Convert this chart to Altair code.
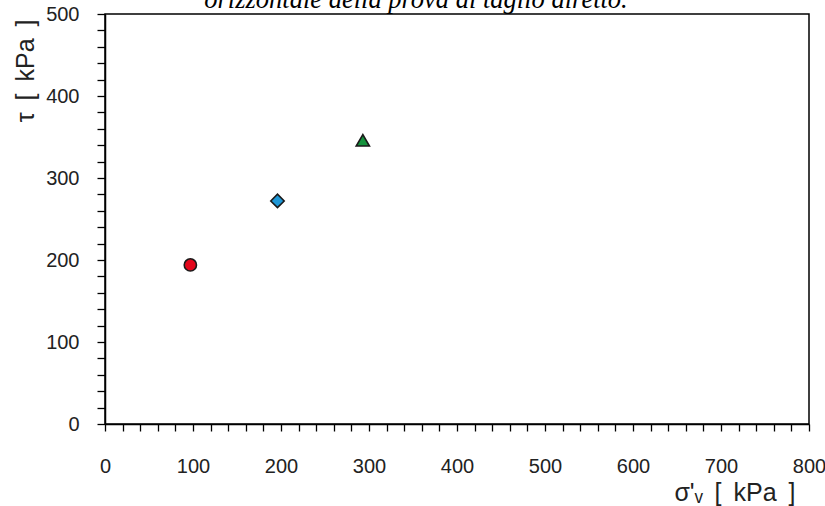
import altair as alt
import pandas as pd

# data
sigma_v = [97, 196, 293]
tau = [194, 272, 346]
series = ["A", "B", "C"]
shapes = ["circle", "diamond", "triangle-up"]
colors = ["#e3061b", "#1f97d6", "#15923c"]
sizes = [150, 180, 175]

x_ticks = list(range(0, 801, 20))
y_ticks = list(range(0, 501, 20))

df = pd.DataFrame({"x": sigma_v, "y": tau, "s": series, "sz": sizes})

FONT = "Liberation Sans"
SP = "\u00a0\u2009"

x_axis = alt.Axis(
    values=x_ticks,
    labelExpr="datum.value % 100 == 0 ? datum.label : ''",
    grid=False, domainColor="black", domainWidth=1.5,
    tickColor="black", tickWidth=1.3, tickSize=7,
    labelFont=FONT, labelFontSize=20, labelColor="#222", labelPadding=25,
    labelFlush=False, labelOverlap=False,
    title=f"σ'ᵥ{SP}[{SP}kPa{SP}]", titleFont=FONT, titleFontSize=25, titleFontWeight="normal",
    titleColor="#222", titleAnchor="end", titleAlign="right", titleBaseline="middle",
    titleX=690, titleY=68,
)
y_axis = alt.Axis(
    values=y_ticks,
    labelExpr="datum.value % 100 == 0 ? datum.label : ''",
    grid=False, domainColor="black", domainWidth=1.5,
    tickColor="black", tickWidth=1.3, tickSize=8,
    labelFont=FONT, labelFontSize=20, labelColor="#222", labelPadding=18,
    labelFlush=False, labelOverlap=False,
    title=f"τ{SP}[{SP}kPa{SP}]", titleFont=FONT, titleFontSize=25, titleFontWeight="normal",
    titleColor="#222", titleAngle=270, titleAlign="right", titleBaseline="middle",
    titleX=-80, titleY=5,
)

points = alt.Chart(df).mark_point(filled=True, stroke="#1a1a1a", strokeWidth=1.6, opacity=1).encode(
    x=alt.X("x:Q", scale=alt.Scale(domain=[0, 800], nice=False, zero=True), axis=x_axis),
    y=alt.Y("y:Q", scale=alt.Scale(domain=[0, 500], nice=False, zero=True), axis=y_axis),
    shape=alt.Shape("s:N", scale=alt.Scale(domain=series, range=shapes), legend=None),
    fill=alt.Fill("s:N", scale=alt.Scale(domain=series, range=colors), legend=None),
    size=alt.Size("sz:Q", scale=None, legend=None),
)

caption = alt.Chart(pd.DataFrame({"t": ["orizzontale della prova di taglio diretto."]})).mark_text(
    font="Liberation Serif", fontStyle="italic", fontSize=26.5, color="black",
    align="center", baseline="alphabetic", clip=False,
).encode(text="t:N", x=alt.value(311), y=alt.value(-6))

chart = alt.layer(points, caption).properties(
    width=704, height=410,
    autosize=alt.AutoSizeParams(type="none"),
    padding={"left": 105, "top": 14, "right": 16, "bottom": 82},
    background="white",
).configure_view(stroke="black", strokeWidth=1.5)

chart.save("out.html", embed_options={"renderer": "svg", "actions": False})
